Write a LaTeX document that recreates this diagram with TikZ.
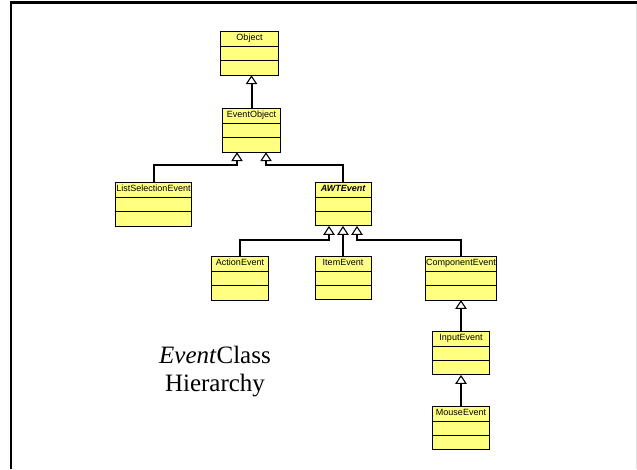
\documentclass[tikz,border=0pt]{standalone}
\usepackage{fontspec}
\setmainfont{Liberation Serif}
\setsansfont{Liberation Sans}
\usetikzlibrary{arrows.meta,shapes.multipart}

\definecolor{classyellow}{RGB}{255,255,128}

\begin{document}
\begin{tikzpicture}[x=1pt, y=-1pt, >={Triangle[open,width=11.5pt,length=9pt,line width=1.1pt]}, line width=2pt,
	class/.style={rectangle split, rectangle split parts=3, draw, fill=classyellow,
		line width=0.9pt, outer sep=0pt, inner xsep=1pt, inner ysep=3pt, anchor=north,
		font=\sffamily\fontsize{9}{10}\selectfont, execute at begin node=\rule[-2pt]{0pt}{8pt},
		rectangle split empty part height=7.5pt, rectangle split empty part depth=0pt}]
	\useasboundingbox (0,0) rectangle (637,469);

	% Frame
	\draw [line width=2.5pt] (11,469) -- (11,2.5) -- (637,2.5);
	\draw [line width=0.8pt, black!12] (636,3.5) -- (636,469);

	% Nodes {obj, evo, lse, awt, act, itm, cmp, inp, mse}
	\node [class, minimum width=58pt]	(obj)	at (249.5,31)	{Object};
	\node [class, minimum width=58pt]	(evo)	at (251.5,108)	{EventObject};
	\node [class, minimum width=76pt]	(lse)	at (153.5,182)	{ListSelectionEvent};
	\node [class, minimum width=56pt]	(awt)	at (343,182)	{\bfseries\itshape AWTEvent};
	\node [class, minimum width=57pt]	(act)	at (240,256)	{ActionEvent};
	\node [class, minimum width=56pt]	(itm)	at (343,256)	{ItemEvent};
	\node [class, minimum width=71pt]	(cmp)	at (461,256)	{ComponentEvent};
	\node [class, minimum width=57pt]	(inp)	at (461,331)	{InputEvent};
	\node [class, minimum width=57pt]	(mse)	at (461,406)	{MouseEvent};

	% Caption
	\node [font=\fontsize{25}{28}\selectfont, align=center, inner sep=0pt] (caption) at (215,372) {\textit{Event}Class\\Hierarchy};

	% Paths
	\draw [->]	(evo.north) -- (evo.north |- obj.south);
	\draw [->]	(lse.north) |- ([xshift=-14.5pt, yshift=-13pt]evo.south) -- ([xshift=-14.5pt]evo.south);
	\draw [->]	(awt.north) |- ([xshift=14.5pt, yshift=-13pt]evo.south) -- ([xshift=14.5pt]evo.south);
	\draw [->]	(act.north) |- ([xshift=-14pt, yshift=-14pt]awt.south) -- ([xshift=-14pt]awt.south);
	\draw [->]	(itm.north) -- (awt.south);
	\draw [->]	(cmp.north) |- ([xshift=14pt, yshift=-14pt]awt.south) -- ([xshift=14pt]awt.south);
	\draw [->]	(inp.north) -- (cmp.south);
	\draw [->]	(mse.north) -- (inp.south);

\end{tikzpicture}
\end{document}
